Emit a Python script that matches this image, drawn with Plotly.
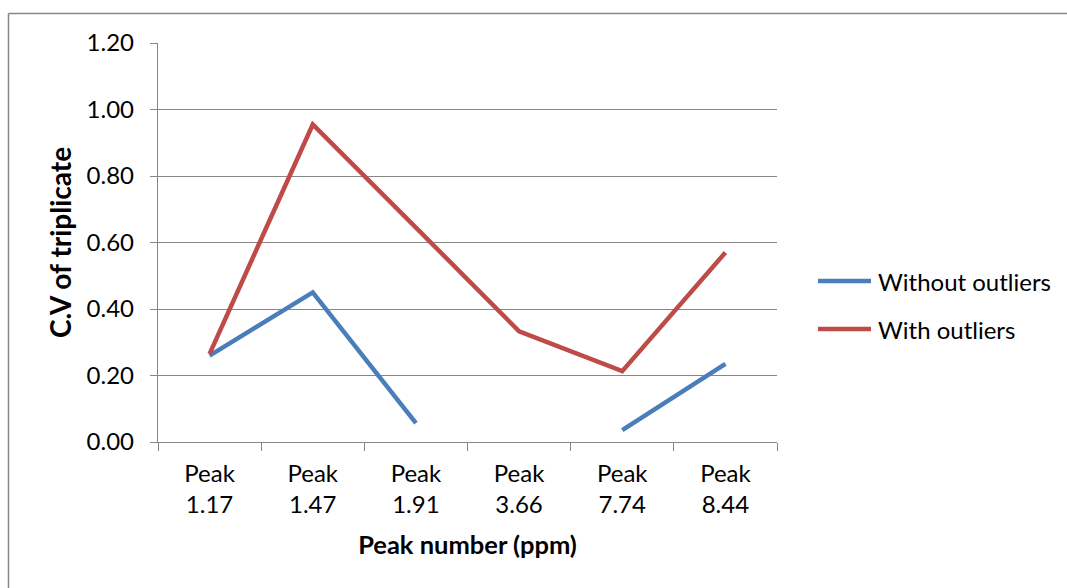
import plotly.graph_objects as go

# Coefficient of variation of triplicate measurements per NMR peak
peaks = ["Peak<br>1.17", "Peak<br>1.47", "Peak<br>1.91", "Peak<br>3.66", "Peak<br>7.74", "Peak<br>8.44"]
without_outliers = [0.26, 0.45, 0.057, None, 0.036, 0.235]
with_outliers = [0.265, 0.955, 0.645, 0.333, 0.213, 0.57]

series_names = ["Without outliers", "With outliers"]
series_colors = ["#4A7EBB", "#BE4B48"]

FONT = "Lato, Carlito, Calibri, sans-serif"
GRID = "#878787"
TXT = 24

# plot area in pixels (width 1067, height 588)
L, R, T, B = 158, 777, 43, 442
W, H = 1067, 588


def px_x(x):
    return (x - L) / (R - L)


def px_y(y):
    return (B - y) / (B - T)


fig = go.Figure()
for name, vals, col in zip(series_names, [without_outliers, with_outliers], series_colors):
    fig.add_trace(go.Scatter(
        x=peaks, y=vals, mode="lines", name=name,
        line=dict(color=col, width=4.5), connectgaps=False,
        showlegend=False,
    ))

shapes = [
    # outer chart frame
    dict(type="line", xref="paper", yref="paper",
         x0=px_x(8.5), x1=px_x(W + 5), y0=px_y(13.5), y1=px_y(13.5),
         line=dict(color="#868686", width=1.5)),
    dict(type="line", xref="paper", yref="paper",
         x0=px_x(8.5), x1=px_x(8.5), y0=px_y(13.5), y1=px_y(H + 5),
         line=dict(color="#868686", width=1.5)),
]
annotations = []
legend_rows = [281, 329]
for name, col, yrow in zip(series_names, series_colors, legend_rows):
    shapes.append(dict(type="line", xref="paper", yref="paper",
                       x0=px_x(818), x1=px_x(871), y0=px_y(yrow), y1=px_y(yrow),
                       line=dict(color=col, width=4.5)))
    annotations.append(dict(xref="paper", yref="paper", x=px_x(876), y=px_y(yrow),
                            xanchor="left", yanchor="middle", showarrow=False,
                            text=name, font=dict(family=FONT, size=TXT, color="#000")))

fig.update_layout(
    width=W, height=H,
    margin=dict(l=L, r=W - R, t=T, b=H - B),
    paper_bgcolor="white", plot_bgcolor="white",
    font=dict(family=FONT, size=TXT, color="#000"),
    shapes=shapes, annotations=annotations,
)
fig.update_xaxes(
    type="category", range=[-0.5, 5.5], tickson="boundaries",
    ticks="outside", ticklen=8, ticklabelstandoff=10,
    tickcolor=GRID, tickwidth=1.3, showline=True, linecolor=GRID, linewidth=1.3,
    showgrid=False, tickfont=dict(size=TXT),
    title=dict(text="<b>Peak number (ppm)</b>", font=dict(size=25.5), standoff=18),
)
fig.update_yaxes(
    range=[0, 1.2], dtick=0.2, tickformat=".2f", ticks="outside", ticklen=7,
    ticklabelstandoff=11,
    tickcolor=GRID, tickwidth=1.3, showline=True, linecolor=GRID, linewidth=1.3,
    showgrid=True, gridcolor=GRID, gridwidth=1.3, zeroline=False,
    tickfont=dict(size=TXT),
    title=dict(text="<b>C.V of triplicate</b>", font=dict(size=28), standoff=6),
)

fig.write_html("out.html")
